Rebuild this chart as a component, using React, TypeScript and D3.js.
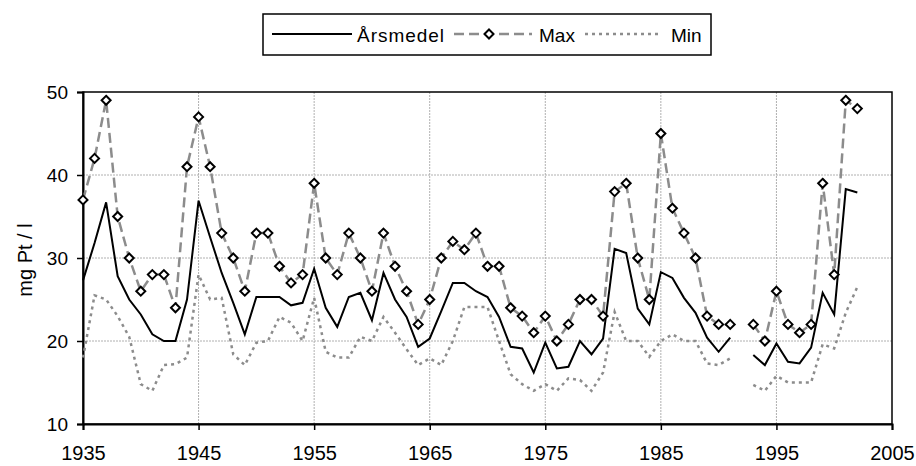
import React, { useEffect, useRef } from 'react';
import * as d3 from 'd3';

// Years on the x axis (1992 has no data)
const years: number[] = d3.range(1935, 2003);

// Annual mean
const arsmedel: (number | null)[] = [
  27.3, 31.8, 36.7, 27.8, 25.0, 23.2, 20.8, 20.0, 20.0, 25.0,
  36.9, 32.5, 28.2, 24.6, 20.8, 25.3, 25.3, 25.3, 24.3, 24.6,
  28.7, 24.0, 21.7, 25.3, 25.8, 22.5, 28.2, 25.0, 22.9, 19.3,
  20.3, 23.6, 27.0, 27.0, 26.0, 25.3, 22.9, 19.3, 19.1, 16.2,
  19.8, 16.7, 16.9, 20.0, 18.4, 20.3, 31.1, 30.6, 23.9, 22.0,
  28.3, 27.6, 25.2, 23.4, 20.4, 18.7, 20.4, null, 18.3, 17.1,
  19.7, 17.5, 17.3, 19.2, 25.8, 23.2, 38.3, 37.9,
];

// Annual max
const maxValues: (number | null)[] = [
  37, 42, 49, 35, 30, 26, 28, 28, 24, 41,
  47, 41, 33, 30, 26, 33, 33, 29, 27, 28,
  39, 30, 28, 33, 30, 26, 33, 29, 26, 22,
  25, 30, 32, 31, 33, 29, 29, 24, 23, 21,
  23, 20, 22, 25, 25, 23, 38, 39, 30, 25,
  45, 36, 33, 30, 23, 22, 22, null, 22, 20,
  26, 22, 21, 22, 39, 28, 49, 48,
];

// Annual min
const minValues: (number | null)[] = [
  18.0, 25.5, 25.0, 23.0, 20.5, 14.8, 14.0, 17.1, 17.2, 18.0,
  28.0, 25.0, 25.2, 18.4, 17.1, 19.8, 20.0, 22.9, 22.2, 20.0,
  25.2, 18.7, 18.0, 18.0, 20.5, 20.0, 22.9, 21.0, 19.0, 17.1,
  17.9, 17.1, 20.0, 24.1, 24.1, 24.1, 20.0, 16.0, 14.8, 14.0,
  14.8, 14.0, 15.5, 15.3, 14.0, 16.2, 23.5, 20.0, 20.0, 18.1,
  20.0, 20.8, 20.0, 20.0, 17.3, 17.1, 17.9, null, 14.7, 14.0,
  15.8, 15.0, 15.0, 15.0, 19.6, 19.1, 23.4, 26.5,
];

const xTicks = [1935, 1945, 1955, 1965, 1975, 1985, 1995, 2005];
const yTicks = [10, 20, 30, 40, 50];

const FONT = 'Arial, "Liberation Sans", sans-serif';

const App = () => {
  const ref = useRef<SVGSVGElement>(null);

  useEffect(() => {
    const width = 916;
    const height = 466;
    const left = 83;
    const right = 892;
    const top = 92;
    const bottom = 424;

    const svg = d3.select(ref.current);
    svg.selectAll('*').remove();
    svg.attr('width', width).attr('height', height);

    svg.append('rect').attr('width', width).attr('height', height).attr('fill', '#fff');

    const x = d3.scaleLinear().domain([1935, 2005]).range([left, right]);
    const y = d3.scaleLinear().domain([10, 50]).range([bottom, top]);

    // gridlines
    const grid = svg.append('g');
    grid
      .selectAll('line.h')
      .data(yTicks.filter(t => t > 10 && t < 50))
      .enter()
      .append('line')
      .attr('x1', left)
      .attr('x2', right)
      .attr('y1', d => y(d))
      .attr('y2', d => y(d))
      .attr('stroke', '#b0b0b0')
      .attr('stroke-width', 1)
      .attr('stroke-dasharray', '2,1');
    grid
      .selectAll('line.v')
      .data(xTicks.filter(t => t > 1935 && t < 2005))
      .enter()
      .append('line')
      .attr('y1', top)
      .attr('y2', bottom)
      .attr('x1', d => x(d))
      .attr('x2', d => x(d))
      .attr('stroke', '#b0b0b0')
      .attr('stroke-width', 1)
      .attr('stroke-dasharray', '2,1');

    // plot frame
    svg
      .append('rect')
      .attr('x', left)
      .attr('y', top)
      .attr('width', right - left)
      .attr('height', bottom - top)
      .attr('fill', 'none')
      .attr('stroke', '#000')
      .attr('stroke-width', 1.5);

    // axes
    const yAxis = svg
      .append('g')
      .attr('transform', `translate(${left},0)`)
      .call(d3.axisLeft(y).tickValues(yTicks).tickSize(6).tickPadding(9).tickFormat(d3.format('d')));
    const xAxis = svg
      .append('g')
      .attr('transform', `translate(0,${bottom})`)
      .call(d3.axisBottom(x).tickValues(xTicks).tickSize(6).tickPadding(16).tickFormat(d3.format('d')));
    [yAxis, xAxis].forEach(a => {
      a.select('.domain').attr('stroke', '#000').attr('stroke-width', 2);
      a.selectAll('.tick line').attr('stroke', '#000').attr('stroke-width', 1.5);
      a.selectAll('.tick text').attr('font-family', FONT).attr('fill', '#000');
    });
    yAxis.selectAll('.tick text').attr('font-size', 19);
    xAxis.selectAll('.tick text').attr('font-size', 20);

    // y axis title
    svg
      .append('text')
      .attr('transform', `translate(32,${(top + bottom) / 2 + 2}) rotate(-90)`)
      .attr('text-anchor', 'middle')
      .attr('font-family', FONT)
      .attr('font-size', 20)
      .text('mg Pt / l');

    const makeLine = (vals: (number | null)[]) =>
      d3
        .line<number>()
        .defined((_, i) => vals[i] !== null)
        .x(d => x(d))
        .y((_, i) => y(vals[i] as number))(years);

    // Min
    svg
      .append('path')
      .attr('d', makeLine(minValues))
      .attr('fill', 'none')
      .attr('stroke', '#8c8c8c')
      .attr('stroke-width', 2.5)
      .attr('stroke-dasharray', '3,4');

    // Max
    svg
      .append('path')
      .attr('d', makeLine(maxValues))
      .attr('fill', 'none')
      .attr('stroke', '#8c8c8c')
      .attr('stroke-width', 2.5)
      .attr('stroke-dasharray', '10,5');

    // Årsmedel
    svg
      .append('path')
      .attr('d', makeLine(arsmedel))
      .attr('fill', 'none')
      .attr('stroke', '#000')
      .attr('stroke-width', 2);

    const diamond = (cx: number, cy: number) =>
      `M${cx},${cy - 4.5}L${cx + 4.5},${cy}L${cx},${cy + 4.5}L${cx - 4.5},${cy}Z`;

    svg
      .selectAll('path.marker')
      .data(years.filter((_, i) => maxValues[i] !== null))
      .enter()
      .append('path')
      .attr('d', d => diamond(x(d), y(maxValues[years.indexOf(d)] as number)))
      .attr('fill', '#fff')
      .attr('stroke', '#000')
      .attr('stroke-width', 2);

    // legend
    const lg = svg.append('g');
    lg.append('rect')
      .attr('x', 263)
      .attr('y', 14)
      .attr('width', 448)
      .attr('height', 41)
      .attr('fill', '#fff')
      .attr('stroke', '#000')
      .attr('stroke-width', 1.5);
    const ly = 34;
    lg.append('line').attr('x1', 272).attr('x2', 352).attr('y1', ly).attr('y2', ly)
      .attr('stroke', '#000').attr('stroke-width', 2);
    lg.append('line').attr('x1', 454).attr('x2', 532).attr('y1', ly).attr('y2', ly)
      .attr('stroke', '#8c8c8c').attr('stroke-width', 2.5).attr('stroke-dasharray', '10,5');
    lg.append('path').attr('d', diamond(489, ly)).attr('fill', '#fff').attr('stroke', '#000').attr('stroke-width', 2);
    lg.append('line').attr('x1', 585).attr('x2', 660).attr('y1', ly).attr('y2', ly)
      .attr('stroke', '#8c8c8c').attr('stroke-width', 2.5).attr('stroke-dasharray', '3,4');
    const labels: [string, number][] = [['Årsmedel', 357], ['Max', 539], ['Min', 671]];
    labels.forEach(([t, lx]) => {
      lg.append('text')
        .attr('x', lx)
        .attr('y', ly + 8)
        .attr('font-family', FONT)
        .attr('font-size', 19)
        .attr('textLength', t === 'Årsmedel' ? 87 : null)
        .text(t);
    });
  }, []);

  return (
    <div style={{ position: 'absolute', left: 0, top: 0 }}>
      <svg ref={ref} style={{ display: 'block' }}></svg>
    </div>
  );
};

export default App;
